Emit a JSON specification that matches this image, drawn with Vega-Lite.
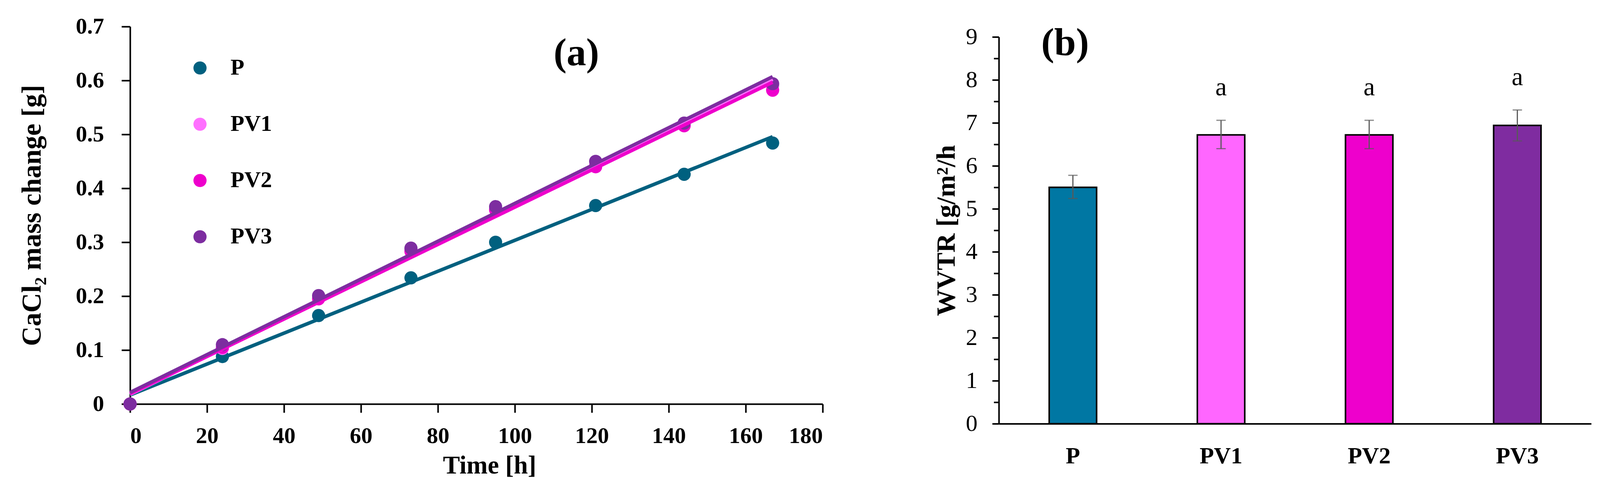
{
  "$schema": "https://vega.github.io/schema/vega-lite/v6.json",
  "background": "white",
  "padding": {"left": 47, "top": 39, "right": 0, "bottom": 0},
  "spacing": 281,
  "center": true,
  "config": {
    "view": {"stroke": null},
    "axis": {
      "grid": false,
      "domainColor": "black",
      "domainWidth": 4,
      "tickColor": "black",
      "tickWidth": 4,
      "labelColor": "black",
      "titleColor": "black",
      "labelFont": "Liberation Serif",
      "titleFont": "Liberation Serif"
    },
    "text": {"font": "Liberation Serif", "color": "black"},
    "legend": {"labelFont": "Liberation Serif"}
  },
  "hconcat": [
    {
      "width": 1773,
      "height": 966,
      "layer": [
        {
          "data": {
            "values": [
              {"series": "P", "time": 0, "mass": 0},
              {"series": "P", "time": 24, "mass": 0.088},
              {"series": "P", "time": 49, "mass": 0.164},
              {"series": "P", "time": 73, "mass": 0.234},
              {"series": "P", "time": 95, "mass": 0.300},
              {"series": "P", "time": 121, "mass": 0.368},
              {"series": "P", "time": 144, "mass": 0.426},
              {"series": "P", "time": 167, "mass": 0.484},
              {"series": "PV1", "time": 0, "mass": 0},
              {"series": "PV1", "time": 24, "mass": 0.103},
              {"series": "PV1", "time": 49, "mass": 0.196},
              {"series": "PV1", "time": 73, "mass": 0.286},
              {"series": "PV1", "time": 95, "mass": 0.362},
              {"series": "PV1", "time": 121, "mass": 0.443},
              {"series": "PV1", "time": 144, "mass": 0.518},
              {"series": "PV1", "time": 167, "mass": 0.590},
              {"series": "PV2", "time": 0, "mass": 0},
              {"series": "PV2", "time": 24, "mass": 0.105},
              {"series": "PV2", "time": 49, "mass": 0.195},
              {"series": "PV2", "time": 73, "mass": 0.283},
              {"series": "PV2", "time": 95, "mass": 0.360},
              {"series": "PV2", "time": 121, "mass": 0.440},
              {"series": "PV2", "time": 144, "mass": 0.516},
              {"series": "PV2", "time": 167, "mass": 0.582},
              {"series": "PV3", "time": 0, "mass": 0},
              {"series": "PV3", "time": 24, "mass": 0.110},
              {"series": "PV3", "time": 49, "mass": 0.201},
              {"series": "PV3", "time": 73, "mass": 0.289},
              {"series": "PV3", "time": 95, "mass": 0.366},
              {"series": "PV3", "time": 121, "mass": 0.450},
              {"series": "PV3", "time": 144, "mass": 0.521},
              {"series": "PV3", "time": 167, "mass": 0.594}
            ]
          },
          "layer": [
            {
              "mark": {"type": "point", "filled": true, "size": 1134, "opacity": 1, "strokeWidth": 0},
              "encoding": {
                "x": {
                  "field": "time",
                  "type": "quantitative",
                  "scale": {"domain": [0, 180], "nice": false},
                  "axis": {
                    "title": "Time [h]",
                    "values": [0, 20, 40, 60, 80, 100, 120, 140, 160, 180],
                    "tickSize": 22,
                    "labelPadding": 31,
                    "labelFontSize": 58,
                    "labelFontWeight": "bold",
                    "titleFontSize": 65,
                    "titleFontWeight": "bold",
                    "titlePadding": 15,
                    "titleX": 920
                  }
                },
                "y": {
                  "field": "mass",
                  "type": "quantitative",
                  "scale": {"domain": [0, 0.7], "nice": false},
                  "axis": {
                    "title": "CaCl₂ mass change [g]",
                    "values": [0, 0.1, 0.2, 0.3, 0.4, 0.5, 0.6, 0.7],
                    "labelExpr": "datum.value == 0 ? '0' : format(datum.value, '.1f')",
                    "tickSize": 22,
                    "labelPadding": 45,
                    "labelFontSize": 58,
                    "labelFontWeight": "bold",
                    "titleFontSize": 70,
                    "titleFontWeight": "bold",
                    "titlePadding": 75
                  }
                },
                "color": {
                  "field": "series",
                  "type": "nominal",
                  "scale": {
                    "domain": ["P", "PV1", "PV2", "PV3"],
                    "range": ["#00607F", "#FF70FF", "#EE00CC", "#7D2DA0"]
                  },
                  "legend": {
                    "title": null,
                    "orient": "none",
                    "legendX": 150,
                    "legendY": 77,
                    "symbolType": "circle",
                    "symbolSize": 1134,
                    "symbolStrokeWidth": 0,
                    "labelFontSize": 58,
                    "labelFontWeight": "bold",
                    "labelColor": "black",
                    "labelOffset": 49,
                    "rowPadding": 86,
                    "padding": 0
                  }
                }
              }
            },
            {
              "transform": [
                {"regression": "mass", "on": "time", "groupby": ["series"], "extent": [0, 167]}
              ],
              "mark": {"type": "line", "strokeWidth": 9},
              "encoding": {
                "x": {"field": "time", "type": "quantitative"},
                "y": {"field": "mass", "type": "quantitative"},
                "color": {"field": "series", "type": "nominal", "legend": null}
              }
            }
          ]
        },
        {
          "data": {"values": [{"label": "(a)"}]},
          "mark": {"type": "text", "fontSize": 100, "fontWeight": "bold", "align": "center", "baseline": "middle"},
          "encoding": {
            "x": {"datum": 116, "type": "quantitative"},
            "y": {"datum": 0.65, "type": "quantitative"},
            "text": {"field": "label", "type": "nominal"}
          }
        }
      ]
    },
    {
      "width": 1517,
      "height": 990,
      "data": {
        "values": [
          {"sample": "P", "wvtr": 5.50, "lower": 5.24, "upper": 5.78, "sig": ""},
          {"sample": "PV1", "wvtr": 6.72, "lower": 6.40, "upper": 7.06, "sig": "a"},
          {"sample": "PV2", "wvtr": 6.72, "lower": 6.40, "upper": 7.06, "sig": "a"},
          {"sample": "PV3", "wvtr": 6.94, "lower": 6.58, "upper": 7.30, "sig": "a"}
        ]
      },
      "encoding": {
        "x": {
          "field": "sample",
          "type": "nominal",
          "sort": null,
          "scale": {"paddingInner": 0.68, "paddingOuter": 0.34},
          "axis": {
            "title": null,
            "labelAngle": 0,
            "ticks": false,
            "labelPadding": 54,
            "labelFontSize": 60,
            "labelFontWeight": "bold"
          }
        }
      },
      "layer": [
        {
          "mark": {"type": "bar", "stroke": "black", "strokeWidth": 4},
          "encoding": {
            "y": {
              "field": "wvtr",
              "type": "quantitative",
              "scale": {"domain": [0, 9], "nice": false},
              "axis": {
                "title": "WVTR [g/m²/h",
                "values": [0, 0.5, 1, 1.5, 2, 2.5, 3, 3.5, 4, 4.5, 5, 5.5, 6, 6.5, 7, 7.5, 8, 8.5, 9],
                "labelExpr": "datum.value % 1 === 0 ? format(datum.value, 'd') : ''",
                "tickSize": {"condition": {"test": "datum.value % 1 === 0", "value": 17}, "value": 13},
                "labelPadding": 38,
                "labelFontSize": 60,
                "labelFontWeight": "normal",
                "titleFontSize": 68,
                "titleFontWeight": "bold",
                "titlePadding": 15
              }
            },
            "fill": {
              "field": "sample",
              "type": "nominal",
              "scale": {
                "domain": ["P", "PV1", "PV2", "PV3"],
                "range": ["#0077A3", "#FF66FF", "#EE00CC", "#7F2CA0"]
              },
              "legend": null
            }
          }
        },
        {
          "mark": {"type": "rule", "color": "#595959", "strokeWidth": 3},
          "encoding": {
            "y": {"field": "lower", "type": "quantitative"},
            "y2": {"field": "upper"}
          }
        },
        {
          "mark": {"type": "tick", "color": "#595959", "thickness": 3, "size": 24},
          "encoding": {
            "y": {"field": "upper", "type": "quantitative"}
          }
        },
        {
          "mark": {"type": "tick", "color": "#595959", "thickness": 3, "size": 24},
          "encoding": {
            "y": {"field": "lower", "type": "quantitative"}
          }
        },
        {
          "mark": {"type": "text", "fontSize": 66, "align": "center", "baseline": "alphabetic", "dy": -64},
          "encoding": {
            "y": {"field": "upper", "type": "quantitative"},
            "text": {"field": "sig"}
          }
        },
        {
          "data": {"values": [{"label": "(b)"}]},
          "mark": {"type": "text", "fontSize": 100, "fontWeight": "bold", "align": "center", "baseline": "middle", "dx": -20},
          "encoding": {
            "x": {"datum": "P"},
            "y": {"datum": 8.85},
            "text": {"field": "label"}
          }
        }
      ]
    }
  ]
}
